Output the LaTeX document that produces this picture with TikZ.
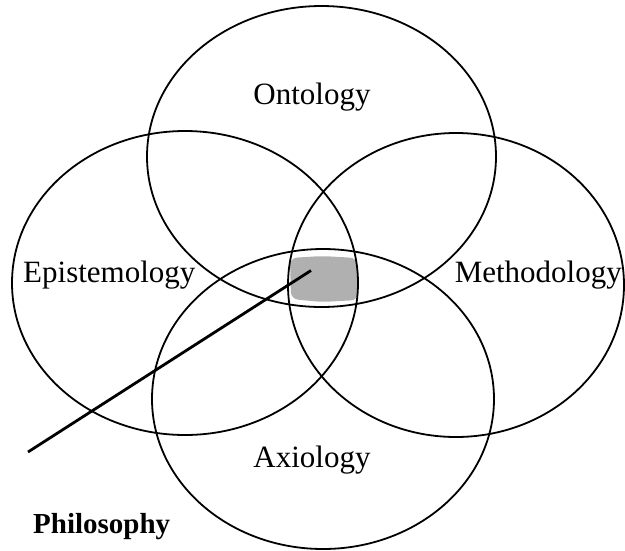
\documentclass[tikz,border=0pt]{standalone}
\usepackage{fontspec}
\setmainfont{Liberation Serif}
\usetikzlibrary{shapes.geometric}
\begin{document}
\begin{tikzpicture}[x=1pt,y=-1pt,
  circ/.style={ellipse, draw=black, line width=1.8pt, inner sep=0pt},
  lbl/.style={anchor=base, inner sep=0pt, font=\fontsize{31}{31}\selectfont},
  ptr/.style={line width=2.8pt, draw=black}]
\useasboundingbox (0,0) rectangle (625,550);
% shaded core
\fill[fill={rgb,255:red,176;green,176;blue,176}, rounded corners=7pt]
  (290,258) -- (322,256) -- (357,258) -- (358,300) -- (322,302) -- (291,299) -- cycle;
\node[circ, minimum width=349pt, minimum height=301pt] (onto) at (321.5,156.5) {};
\node[circ, minimum width=346pt, minimum height=304pt] (epis) at (185,283) {};
\node[circ, minimum width=336pt, minimum height=304pt] (meth) at (456,285) {};
\node[circ, minimum width=342pt, minimum height=300pt] (axio) at (323,399) {};
\node[lbl] (tonto) at (312,104) {Ontology};
\node[lbl, anchor=base west] (tepis) at (23,282) {Epistemology};
\node[lbl, anchor=base east] (tmeth) at (622,282) {Methodology};
\node[lbl] (taxio) at (312,467) {Axiology};
\node[anchor=base west, inner sep=0pt, font=\fontsize{29}{29}\selectfont\bfseries] (phil) at (33,533) {Philosophy};
\coordinate (core) at (311,270.5);
\coordinate (tail) at (28,452);
\draw[ptr] (tail) -- (core);
\end{tikzpicture}
\end{document}
